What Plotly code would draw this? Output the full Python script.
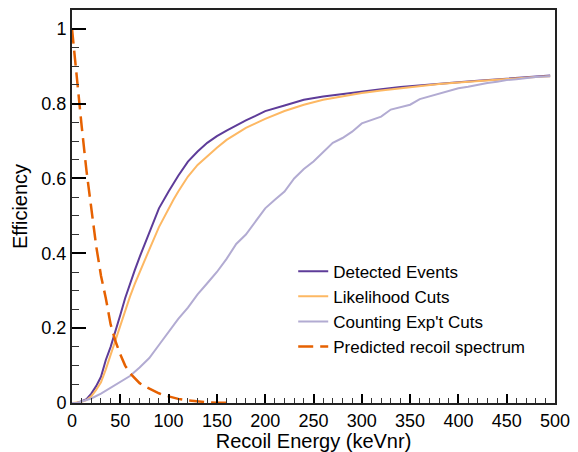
import plotly.graph_objects as go

# ---- data ----
det_E = [0, 5, 10, 15, 20, 25, 30, 35, 40, 45, 50, 55, 60, 65, 70, 80, 90, 100, 110, 120,
         130, 140, 150, 160, 170, 180, 190, 200, 220, 240, 260, 280, 300, 320, 340, 360,
         380, 400, 420, 440, 460, 480, 495]
det_eff = [0, 0, 0.005, 0.01, 0.025, 0.045, 0.07, 0.115, 0.15, 0.19, 0.235, 0.28, 0.32, 0.355,
           0.39, 0.455, 0.52, 0.565, 0.607, 0.645, 0.672, 0.695, 0.713, 0.728, 0.742, 0.755,
           0.767, 0.78, 0.795, 0.81, 0.819, 0.826, 0.832, 0.838, 0.844, 0.849, 0.853, 0.857,
           0.861, 0.865, 0.868, 0.872, 0.875]

lik_E = [0, 10, 15, 20, 25, 30, 35, 40, 45, 50, 55, 60, 65, 70, 75, 80, 90, 100, 105, 110,
         120, 130, 140, 150, 160, 170, 180, 190, 200, 220, 240, 260, 280, 300, 320, 340,
         360, 380, 400, 420, 440, 460, 480, 495]
lik_eff = [0, 0.003, 0.008, 0.018, 0.035, 0.055, 0.09, 0.13, 0.165, 0.205, 0.245, 0.284,
           0.318, 0.35, 0.378, 0.41, 0.47, 0.52, 0.543, 0.565, 0.605, 0.636, 0.66, 0.682,
           0.703, 0.72, 0.735, 0.747, 0.759, 0.78, 0.797, 0.81, 0.82, 0.828, 0.835, 0.841,
           0.847, 0.852, 0.856, 0.86, 0.864, 0.867, 0.871, 0.873]

cnt_E = [0, 5, 10, 20, 30, 40, 50, 60, 70, 80, 90, 100, 110, 120, 130, 140, 150, 160, 170,
         180, 190, 200, 210, 220, 230, 240, 250, 260, 270, 280, 290, 300, 310, 320, 330,
         340, 350, 360, 370, 380, 390, 400, 410, 420, 430, 440, 450, 460, 470, 480, 490, 495]
cnt_eff = [0, 0, 0.004, 0.012, 0.025, 0.04, 0.055, 0.072, 0.095, 0.12, 0.155, 0.19, 0.225,
           0.255, 0.29, 0.32, 0.35, 0.385, 0.425, 0.45, 0.485, 0.52, 0.543, 0.565, 0.6,
           0.625, 0.645, 0.67, 0.695, 0.708, 0.725, 0.747, 0.756, 0.765, 0.784, 0.79, 0.797,
           0.812, 0.819, 0.826, 0.835, 0.841, 0.845, 0.851, 0.855, 0.858, 0.863, 0.865,
           0.869, 0.871, 0.872, 0.873]

spec_E = [0, 5, 10, 15, 20, 25, 30, 35, 40, 45, 50, 55, 60, 65, 70, 75, 80, 85, 90, 95, 100,
          110, 120, 130, 140, 150, 160, 165]
spec_val = [1.0, 0.86, 0.74, 0.62, 0.52, 0.42, 0.34, 0.28, 0.21, 0.165, 0.13, 0.10, 0.08,
            0.065, 0.053, 0.045, 0.038, 0.032, 0.026, 0.021, 0.017, 0.011, 0.007, 0.004,
            0.002, 0.001, 0.0005, 0.0]

x_ticks = [0, 50, 100, 150, 200, 250, 300, 350, 400, 450, 500]
y_ticks = [0, 0.2, 0.4, 0.6, 0.8, 1]
y_tick_labels = ["0", "0.2", "0.4", "0.6", "0.8", "1"]

FONT = "Liberation Sans, Arial, Helvetica, sans-serif"

fig = go.Figure()
fig.add_trace(go.Scatter(x=det_E, y=det_eff, mode="lines", name="Detected Events",
                         line=dict(color="#5e3c99", width=2)))
fig.add_trace(go.Scatter(x=lik_E, y=lik_eff, mode="lines", name="Likelihood Cuts",
                         line=dict(color="#fdb863", width=2)))
fig.add_trace(go.Scatter(x=cnt_E, y=cnt_eff, mode="lines", name="Counting Exp't Cuts",
                         line=dict(color="#b2abd2", width=2)))
fig.add_trace(go.Scatter(x=spec_E, y=spec_val, mode="lines", name="Predicted recoil spectrum",
                         line=dict(color="#e66101", width=2.5, dash="15px,7px")))

fig.update_layout(
    width=578, height=452,
    margin=dict(l=72, r=23, t=10, b=49),
    paper_bgcolor="white", plot_bgcolor="white",
    font=dict(family=FONT, size=18, color="black"),
    showlegend=True,
    legend=dict(x=0.458, y=0.38, xanchor="left", yanchor="top",
                bgcolor="rgba(0,0,0,0)", font=dict(size=17, family=FONT),
                tracegroupgap=0),
    xaxis=dict(range=[0, 500], tickvals=x_ticks, ticks="inside", ticklen=9, tickwidth=1.5,
               tickcolor="black", showgrid=False, zeroline=False, showline=True,
               linecolor="#222", linewidth=2, mirror=True, automargin=False,
               minor=dict(dtick=10, ticks="inside", ticklen=5, tickcolor="#333", tickwidth=1),
               title=dict(text="Recoil Energy (keVnr)", font=dict(size=20), standoff=4),
               tickfont=dict(size=18)),
    yaxis=dict(range=[0, 1.05], tickvals=y_ticks, ticktext=y_tick_labels, ticks="inside",
               ticklen=14, tickwidth=1.5, tickcolor="black", showgrid=False, zeroline=False,
               showline=True, linecolor="#222", linewidth=2, mirror=True, automargin=False,
               minor=dict(dtick=0.05, ticks="inside", ticklen=7, tickcolor="#333", tickwidth=1),
               title=dict(text="Efficiency", font=dict(size=20), standoff=8),
               tickfont=dict(size=18)),
)

fig.write_html("out.html", config={"displayModeBar": False},
               post_script="document.body.style.margin='0';document.body.style.overflow='hidden';")
